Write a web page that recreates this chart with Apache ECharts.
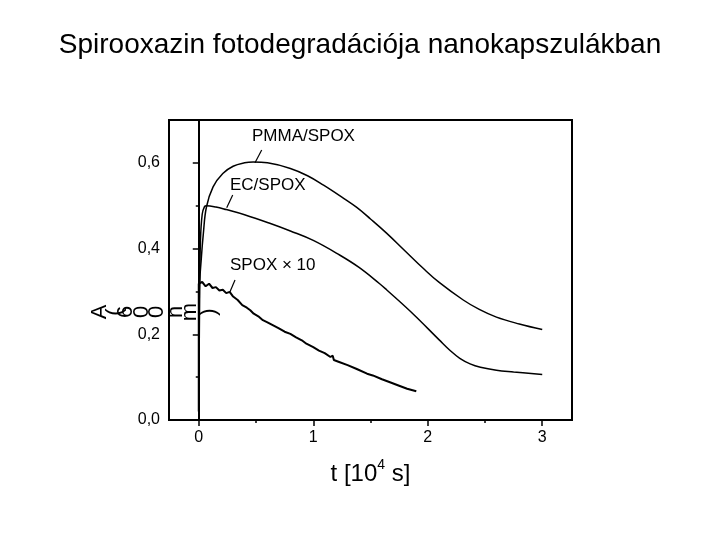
<!DOCTYPE html>
<html>
<head>
<meta charset="utf-8">
<script src="https://cdn.jsdelivr.net/npm/echarts@6/dist/echarts.min.js"></script>
<style>
  html, body { margin: 0; padding: 0; background: #fff; }
  #chart { width: 720px; height: 540px; }
</style>
</head>
<body>
<div id="chart"></div>
<script>
// time in 10^4 s, absorbance at 600 nm
const pmmaX = [0, 0.005, 0.023, 0.04, 0.067, 0.125, 0.21, 0.30, 0.40, 0.475, 0.6, 0.80, 0.95, 1.09, 1.25, 1.38, 1.50, 1.64, 1.80, 1.96, 2.10, 2.31, 2.45, 2.60, 2.80, 3.0];
const pmmaY = [0.02, 0.30, 0.38, 0.435, 0.497, 0.544, 0.575, 0.592, 0.600, 0.602, 0.600, 0.587, 0.570, 0.548, 0.520, 0.496, 0.469, 0.436, 0.395, 0.354, 0.321, 0.280, 0.258, 0.240, 0.224, 0.211];

const ecX = [0, 0.008, 0.015, 0.03, 0.05, 0.067, 0.15, 0.24, 0.40, 0.62, 0.80, 1.00, 1.23, 1.40, 1.58, 1.64, 1.87, 2.10, 2.20, 2.28, 2.37, 2.46, 2.60, 2.75, 3.0];
const ecY = [0.02, 0.30, 0.42, 0.48, 0.498, 0.500, 0.497, 0.491, 0.479, 0.459, 0.441, 0.419, 0.385, 0.356, 0.318, 0.304, 0.248, 0.187, 0.161, 0.144, 0.131, 0.123, 0.116, 0.112, 0.106];

const spoxX = [0, 0, 0.03, 0.06, 0.09, 0.12, 0.15, 0.18, 0.21, 0.24, 0.27, 0.30, 0.34, 0.38, 0.42, 0.45, 0.48, 0.52, 0.56, 0.60, 0.65, 0.70, 0.75, 0.80, 0.85, 0.90, 0.94, 1.00, 1.05, 1.10, 1.15, 1.17, 1.18, 1.22, 1.30, 1.38, 1.47, 1.52, 1.60, 1.67, 1.75, 1.82, 1.90];
const spoxY = [0.02, 0.318, 0.322, 0.312, 0.318, 0.308, 0.310, 0.302, 0.304, 0.296, 0.299, 0.288, 0.280, 0.268, 0.262, 0.256, 0.248, 0.242, 0.233, 0.228, 0.221, 0.214, 0.206, 0.201, 0.193, 0.186, 0.178, 0.170, 0.162, 0.156, 0.147, 0.150, 0.140, 0.136, 0.128, 0.119, 0.108, 0.104, 0.095, 0.088, 0.080, 0.073, 0.067];

const xMajor = [0, 1, 2, 3];
const xMinor = [0.5, 1.5, 2.5];
const yMajor = [0, 0.2, 0.4, 0.6];
const yMinor = [0.1, 0.3, 0.5];

const pairs = (xs, ys) => xs.map((x, i) => [x, ys[i]]);

const chart = echarts.init(document.getElementById('chart'));

const font = '"Liberation Sans", Arial, sans-serif';
const lineStyle = { color: '#000', width: 1.5 };

// y-axis title as it appears in the picture: each glyph turned on its side
const yTitleChars = [
  ['A', 100], ['(', 115], ['6', 126], ['0', 142], ['0', 157], ['n', 176], ['m', 190], [')', 209]
];

const option = {
  backgroundColor: '#fff',
  animation: false,
  title: {
    text: 'Spirooxazin fotodegradációja nanokapszulákban',
    left: 'center',
    top: 26,
    textStyle: { fontFamily: font, fontSize: 28, fontWeight: 'normal', color: '#000' }
  },
  grid: {
    left: 169, right: 148, top: 120, bottom: 120,
    show: true, borderColor: '#000', borderWidth: 2
  },
  xAxis: [
    {
      type: 'value', min: -0.26, max: 3.26,
      axisLine: { show: true, lineStyle: { color: '#000', width: 2 } },
      axisTick: { show: true, customValues: xMajor, length: 6, lineStyle: { color: '#000', width: 1.5 } },
      axisLabel: { customValues: xMajor, color: '#000', fontFamily: font, fontSize: 16, margin: 10 },
      splitLine: { show: false },
      name: '{a|t [10}{s|4}{a| s]}',
      nameLocation: 'middle',
      nameGap: 38,
      nameTextStyle: {
        rich: {
          a: { fontFamily: font, fontSize: 24, color: '#000', verticalAlign: 'bottom', lineHeight: 28 },
          s: { fontFamily: font, fontSize: 14, color: '#000', verticalAlign: 'top', lineHeight: 28, padding: [0, 0, 10, 0] }
        }
      }
    },
    {
      type: 'value', min: -0.26, max: 3.26, position: 'bottom',
      axisLine: { show: false },
      axisTick: { show: true, customValues: xMinor, length: 3, lineStyle: { color: '#000', width: 1.5 } },
      axisLabel: { show: false },
      splitLine: { show: false }
    }
  ],
  yAxis: [
    {
      type: 'value', min: 0, max: 0.70,
      axisLine: { show: true, lineStyle: { color: '#000', width: 2 } },
      axisTick: { show: true, customValues: yMajor, length: 6, lineStyle: { color: '#000', width: 1.5 } },
      axisLabel: {
        customValues: yMajor, color: '#000', fontFamily: font, fontSize: 16, margin: 9,
        formatter: v => v.toFixed(1).replace('.', ',')
      },
      splitLine: { show: false }
    },
    {
      type: 'value', min: 0, max: 0.70, position: 'left',
      axisLine: { show: false },
      axisTick: { show: true, customValues: yMinor, length: 3, lineStyle: { color: '#000', width: 1.5 } },
      axisLabel: { show: false },
      splitLine: { show: false }
    }
  ],
  series: [
    {
      name: 'PMMA/SPOX', type: 'line', data: pairs(pmmaX, pmmaY),
      showSymbol: false, smooth: 0.4, lineStyle: lineStyle
    },
    {
      name: 'EC/SPOX', type: 'line', data: pairs(ecX, ecY),
      showSymbol: false, smooth: 0.4, lineStyle: lineStyle
    },
    {
      name: 'SPOX × 10', type: 'line', data: pairs(spoxX, spoxY),
      showSymbol: false, lineStyle: { color: '#000', width: 2 }
    }
  ],
  graphic: [
    { type: 'text', left: 252, top: 128, style: { text: 'PMMA/SPOX', fontFamily: font, fontSize: 17, fill: '#000' } },
    { type: 'line', shape: { x1: 261.7, y1: 150, x2: 255, y2: 162.7 }, style: { stroke: '#000', lineWidth: 1.2 } },
    { type: 'text', left: 230, top: 177, style: { text: 'EC/SPOX', fontFamily: font, fontSize: 17, fill: '#000' } },
    { type: 'line', shape: { x1: 232.7, y1: 195, x2: 226.7, y2: 207.7 }, style: { stroke: '#000', lineWidth: 1.2 } },
    { type: 'text', left: 230, top: 257, style: { text: 'SPOX × 10', fontFamily: font, fontSize: 17, fill: '#000' } },
    { type: 'line', shape: { x1: 235, y1: 280, x2: 230, y2: 291.7 }, style: { stroke: '#000', lineWidth: 1.2 } }
  ].concat(yTitleChars.map(([ch, cx]) => ({
    type: 'text', x: cx, y: 312, rotation: Math.PI / 2,
    style: { text: ch, fontFamily: font, fontSize: 22, fill: '#000', align: 'center', verticalAlign: 'middle' }
  })))
};

chart.setOption(option);
</script>
</body>
</html>
